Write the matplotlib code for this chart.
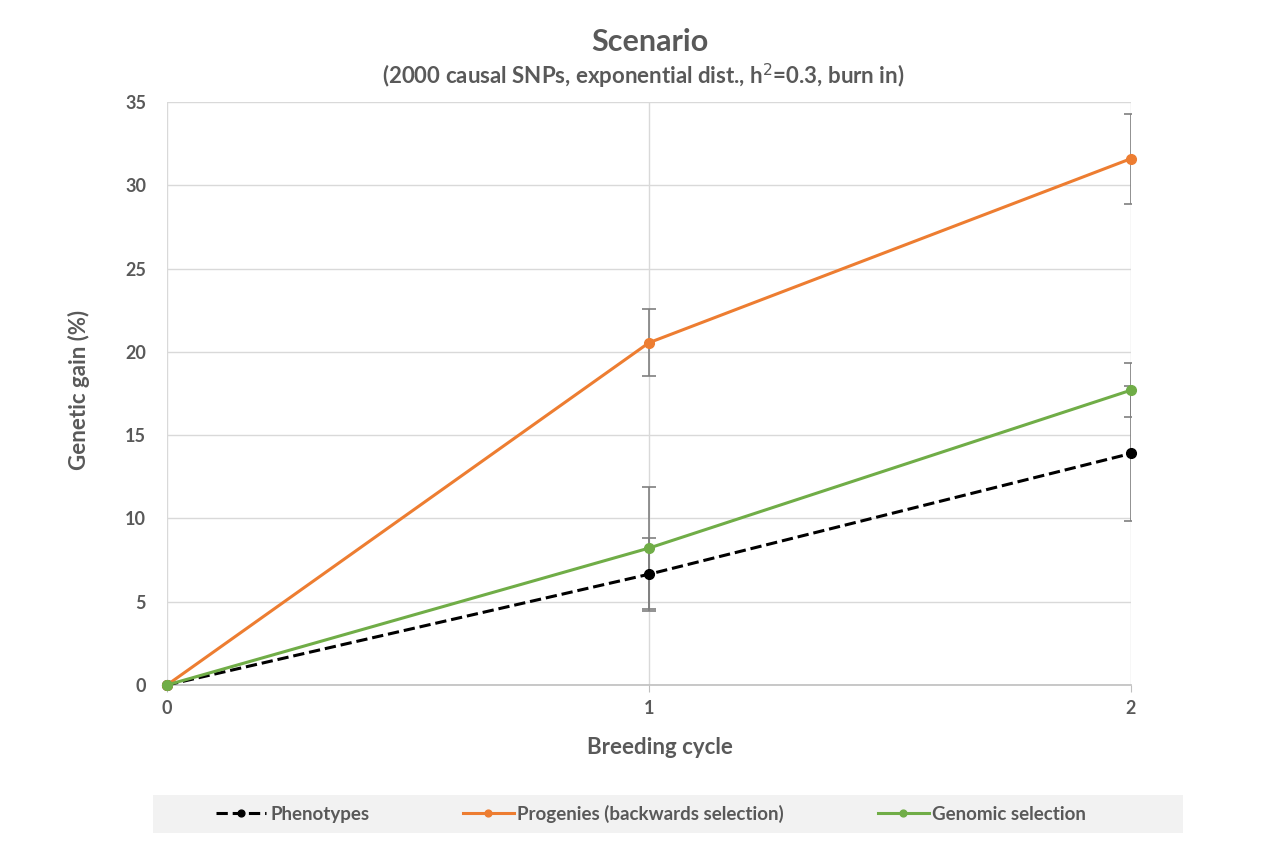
import matplotlib
matplotlib.use("Agg")
import matplotlib.pyplot as plt
from matplotlib.patches import Rectangle

plt.rcParams['font.family'] = ['Lato', 'DejaVu Sans']

# data
cycles = [0, 1, 2]
phenotypes = [0, 6.65, 13.9]
phenotypes_err = [0, 2.2, 4.05]
progenies = [0, 20.55, 31.6]
progenies_err = [0, 2.0, 2.7]
genomic = [0, 8.22, 17.7]
genomic_err = [0, 3.65, 1.62]

labels = ['Phenotypes', 'Progenies (backwards selection)', 'Genomic selection']
colors = ['black', '#ED7D31', '#70AD47']
styles = ['--', '-', '-']

txt = '#595959'
W, H = 1274, 866
fig = plt.figure(figsize=(W / 100, H / 100), dpi=100)
ax = fig.add_axes([167 / W, 1 - 685 / H, (1131 - 167) / W, (685 - 102) / H])

series = [(phenotypes, phenotypes_err), (progenies, progenies_err), (genomic, genomic_err)]
handles = []
for (vals, errs), lab, col, ls in zip(series, labels, colors, styles):
    # error bars only where there is spread (not at cycle 0)
    ax.errorbar(cycles[1:], vals[1:], yerr=errs[1:], fmt='none', ecolor='#7f7f7f',
                elinewidth=1.2, capsize=5, capthick=1.2, zorder=2)
for (vals, errs), lab, col, ls in zip(series, labels, colors, styles):
    h, = ax.plot(cycles, vals, ls, color=col, lw=2.2, marker='o', ms=7,
                 label=lab, zorder=3, clip_on=False)
    handles.append(h)

ax.set_xlim(0, 2)
ax.set_ylim(0, 35)
ax.set_xticks(cycles)
ax.set_yticks(range(0, 36, 5))
ax.grid(True, color='#d9d9d9', lw=1)
ax.set_axisbelow(True)
for s in ['top', 'right', 'left']:
    ax.spines[s].set_visible(False)
ax.spines['bottom'].set_color('#bfbfbf')
ax.spines['bottom'].set_linewidth(1.2)
ax.tick_params(axis='x', length=5, color='#bfbfbf', labelsize=13, labelcolor=txt, pad=6)
ax.tick_params(axis='y', length=0, labelsize=13, labelcolor=txt, pad=15)
for t in ax.get_xticklabels() + ax.get_yticklabels():
    t.set_fontweight('bold')

fig.text(660 / W, 1 - 748 / H, 'Breeding cycle', ha='center', va='center',
         fontsize=16, fontweight='bold', color=txt)
fig.text(79 / W, 1 - 390 / H, 'Genetic gain (%)', ha='center', va='center', rotation=90,
         fontsize=16, fontweight='bold', color=txt)

fig.text(650 / W, 1 - 42 / H, 'Scenario', ha='center', va='center',
         fontsize=22, fontweight='bold', color=txt)
fig.text(643 / W, 1 - 76 / H, '(2000 causal SNPs, exponential dist., h$^{2}$=0.3, burn in)',
         ha='center', va='center', fontsize=16, fontweight='bold', color=txt)

# legend band
fig.patches.append(Rectangle((153 / W, 1 - 833 / H), 1030 / W, 38 / H,
                             transform=fig.transFigure, facecolor='#f2f2f2',
                             edgecolor='none', zorder=0))
leg = fig.legend(handles=handles, loc='center', bbox_to_anchor=(651 / W, 1 - 814 / H),
                 ncol=3, frameon=False, fontsize=13.5, handlelength=2.7,
                 handletextpad=0.2, columnspacing=5.0, markerscale=0.7)
for t in leg.get_texts():
    t.set_fontweight('bold')
    t.set_color(txt)

fig.savefig('out.png', dpi=100)
